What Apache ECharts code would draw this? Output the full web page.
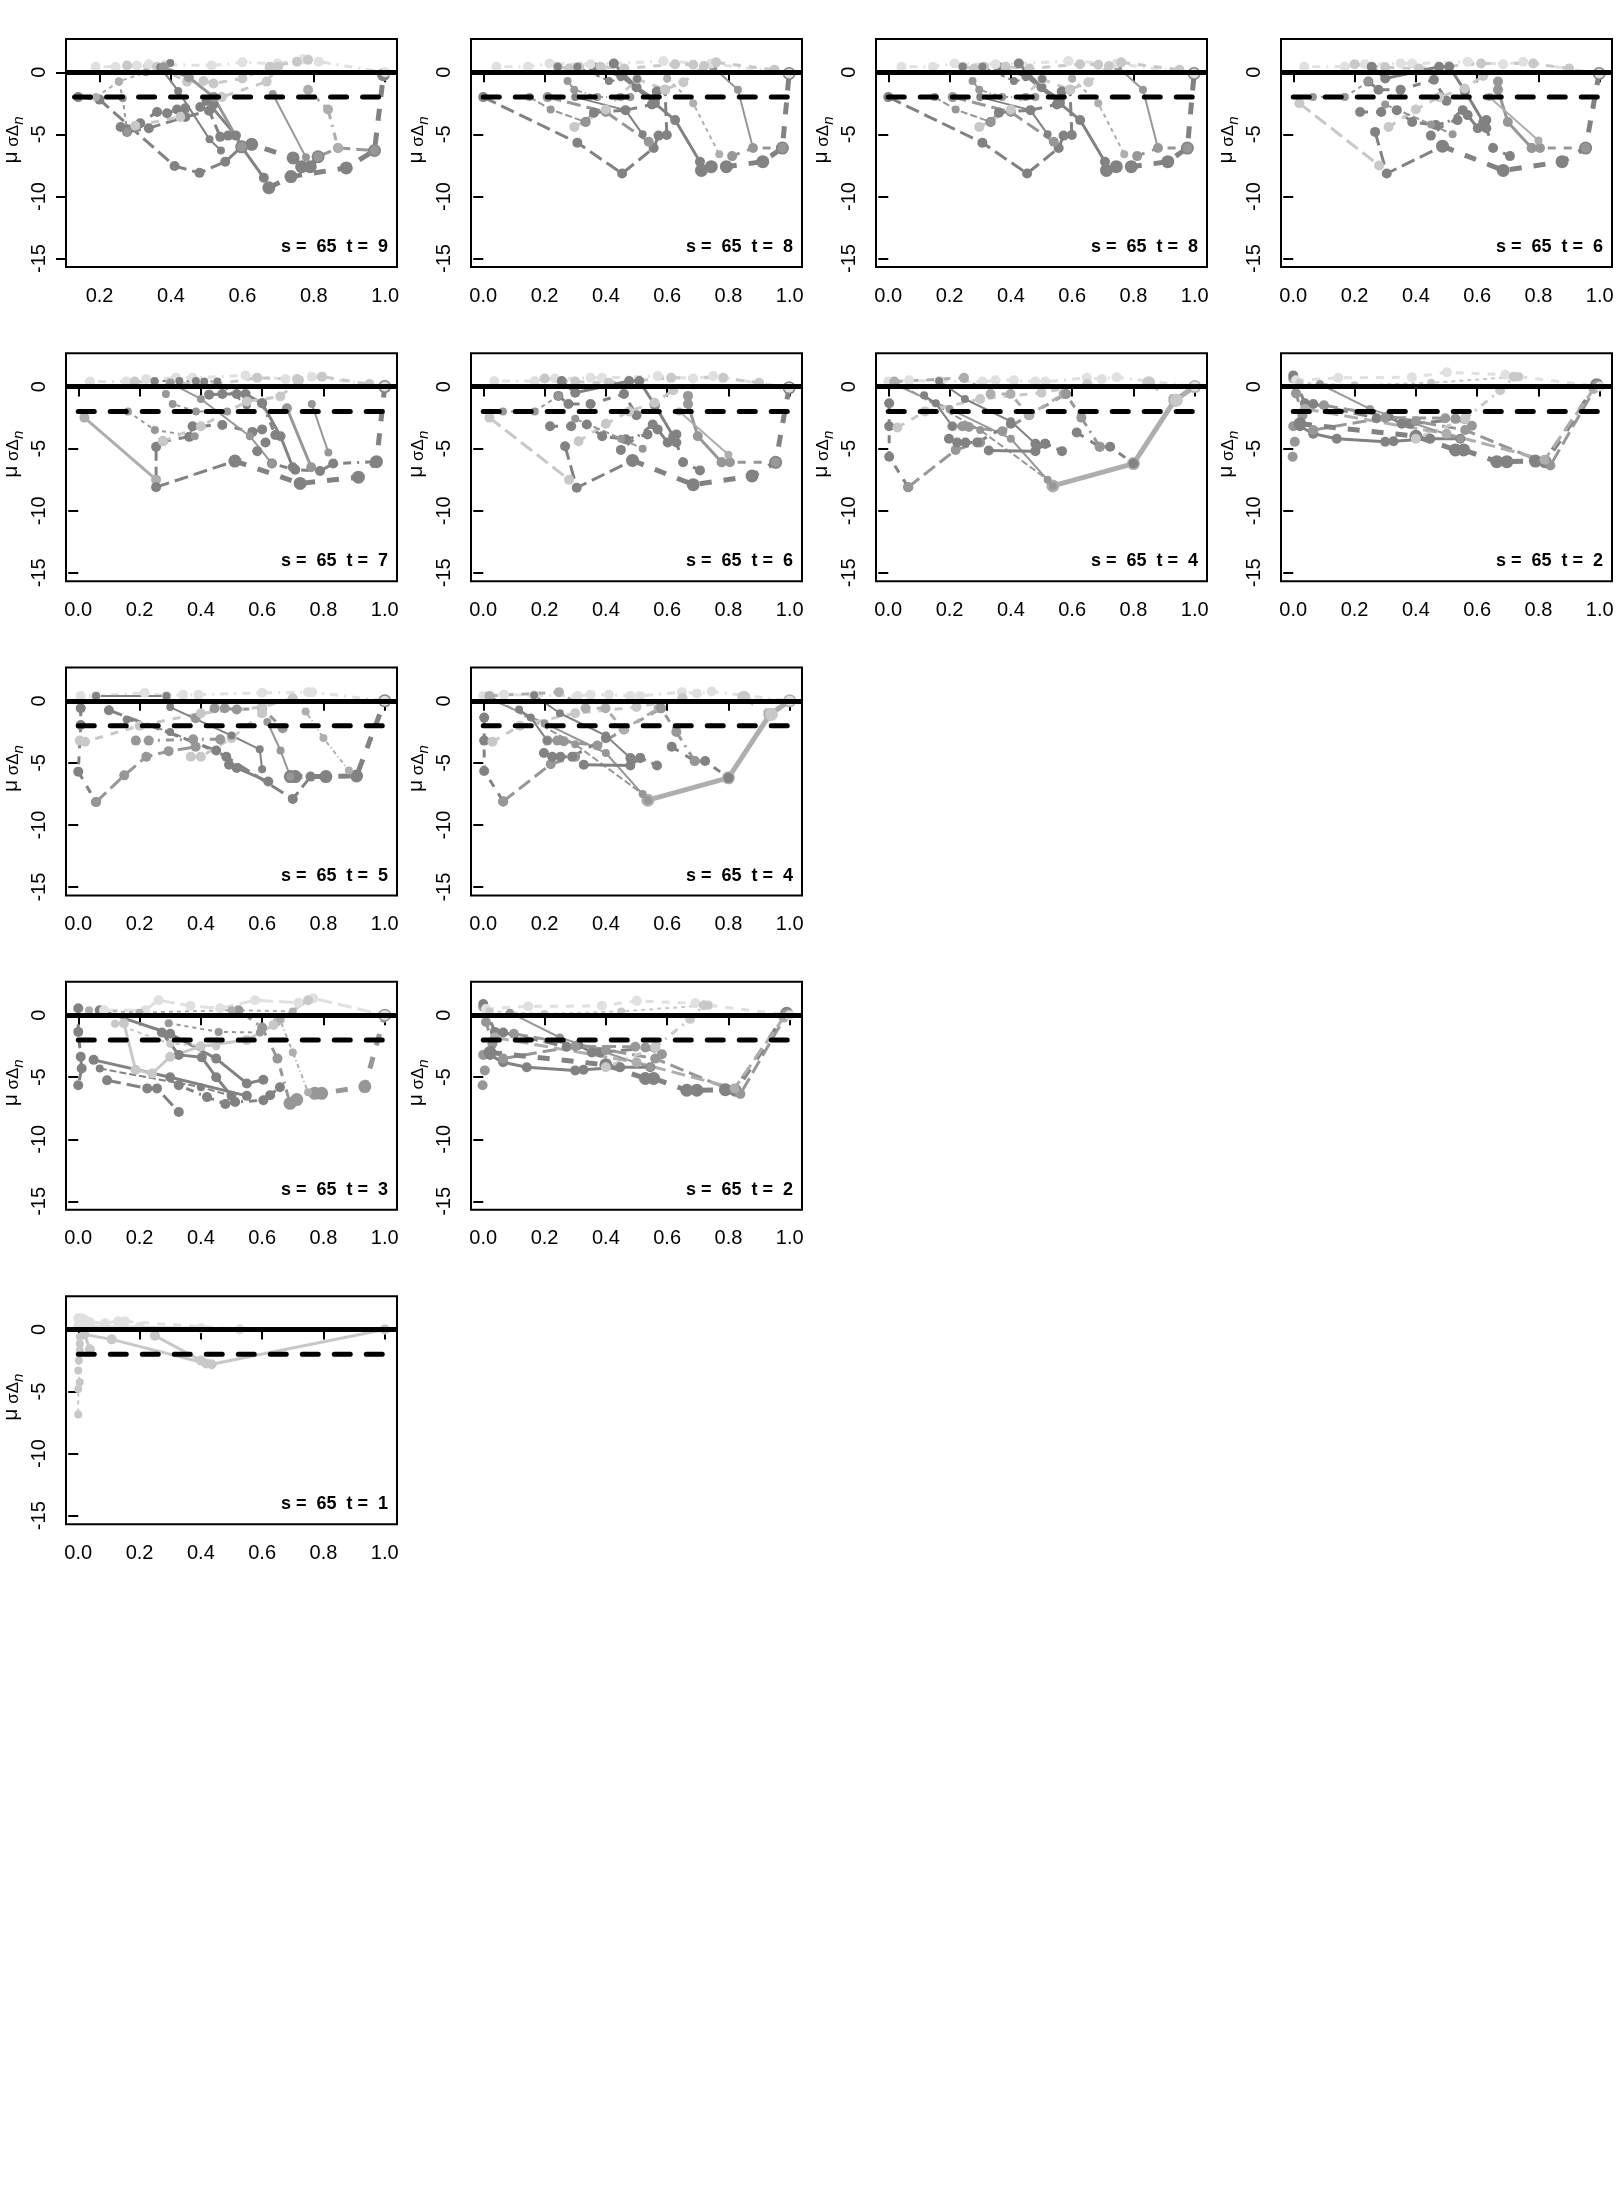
<!DOCTYPE html>
<html><head><meta charset="utf-8">
<script src="https://cdn.jsdelivr.net/npm/echarts@6/dist/echarts.min.js"></script>
<style>html,body{margin:0;padding:0;background:#fff}#c{width:1620px;height:2200px}</style>
</head><body><div id="c"></div>
<script>
// ---------------- DATA ----------------
const sValue = 65;
const tValues = [9, 8, 8, 6, 7, 6, 4, 2, 5, 4, 3, 2, 1];
const xTicksFull = [0, 0.2, 0.4, 0.6, 0.8, 1.0];
const xTicksT9 = [0.2, 0.4, 0.6, 0.8, 1.0];
const yTicks = [-15, -10, -5, 0];
const refSolid = 0;
const refDashed = -2;
const dashedStartT9 = 0.13;
const dashedStartOther = 0.0;

// t = 9
const t9Paths = [
  [[0.14,-2.0],[0.20,-2.2],[0.41,-7.55],[0.48,-8.1],[0.552,-7.2],[0.598,-6.0]],
  [[0.598,-6.0],[0.626,-5.8],[0.742,-6.9],[0.766,-7.6],[0.79,-7.6],[0.812,-6.8]],
  [[0.674,-9.3],[0.736,-8.4],[0.891,-7.7],[0.97,-6.3],[0.995,-0.2]],
  [[0.812,-6.8],[0.868,-6.1],[0.97,-6.3]],
  [[0.50,-2.3],[0.582,-5.1],[0.598,-6.0],[0.66,-8.5]],
  [[0.685,-1.75],[0.778,-6.85]],
  [[0.784,-1.4],[0.84,-3.0],[0.868,-6.1]],
  [[0.259,-4.4],[0.314,-4.1],[0.361,-3.2],[0.389,-3.3],[0.417,-3.0],[0.44,-2.9],[0.482,-2.8],[0.519,-2.6]],
  [[0.277,-4.8],[0.338,-4.5],[0.44,-3.6],[0.507,-3.1],[0.538,-5.2],[0.56,-5.1]],
  [[0.254,-0.75],[0.265,-2.1],[0.277,-4.8]],
  [[0.189,0.45],[0.245,0.45],[0.305,0.55],[0.338,0.65],[0.384,0.6],[0.514,0.55],[0.6,0.8],[0.698,0.7],[0.77,1.05],[0.814,0.85],[1.0,0.0]],
  [[0.277,0.55],[0.361,0.45],[0.445,-0.75],[0.491,-0.7],[0.519,-0.9],[0.6,-0.5],[0.677,0.45],[0.753,0.85],[0.784,1.0]],
  [[0.398,0.75],[0.37,0.4],[0.42,-1.5],[0.508,-5.4],[0.54,-6.3]],
  [[0.30,-4.3],[0.426,-3.6],[0.542,-2.0],[0.668,-0.75],[0.70,0.45]],
  [[0.38,0.4],[0.45,-0.4],[0.52,-2.0],[0.598,-6.0]],
  [[0.19,-2.0],[0.254,-0.75],[0.33,0.0]]
];
const t9Shade = [4,4,4,3,4,3,2,4,4,3,0,1,4,1,3,2];
const t9Lty   = ['ld','d','d','ld','s','s','dd','d','ld','d','dd','d','s','d','s','d'];
const t9Wt    = [2,3,3,2,2,1,2,2,2,1,2,2,1,2,2,1];

// t = 8
const t8Paths = [
  [[0.0,-2.0],[0.307,-5.67],[0.453,-8.15],[0.556,-6.1],[0.572,-5.1],[0.599,-5.05],[0.593,-1.4]],
  [[0.712,-7.9],[0.744,-7.6],[0.793,-7.6],[0.912,-7.2],[0.976,-6.1],[0.998,-0.1]],
  [[0.36,0.4],[0.45,-0.3],[0.56,-2.5],[0.626,-3.85],[0.707,-7.2],[0.712,-7.9]],
  [[0.812,-6.75],[0.88,-6.1],[0.976,-6.1]],
  [[0.75,0.4],[0.831,-1.4],[0.88,-6.1]],
  [[0.60,-0.5],[0.685,-2.5],[0.77,-6.6]],
  [[0.334,-4.0],[0.361,-3.25],[0.464,-3.05],[0.55,-2.6],[0.566,-1.55]],
  [[0.043,0.45],[0.146,0.45],[0.216,0.7],[0.35,0.65],[0.426,0.7],[0.588,0.9],[0.744,0.7],[0.998,-0.1]],
  [[0.243,0.45],[0.28,0.3],[0.313,0.45],[0.383,0.45],[0.46,0.3],[0.626,0.65],[0.685,0.6],[0.76,0.8],[0.95,0.2]],
  [[0.426,0.7],[0.50,-1.2],[0.56,-2.2]],
  [[0.151,-2.0],[0.22,-3.0],[0.334,-4.0]],
  [[0.21,-2.0],[0.40,-3.2],[0.54,-5.6]],
  [[0.30,-2.0],[0.464,-3.05],[0.52,-5.0]],
  [[0.275,-0.7],[0.297,-1.4],[0.372,-2.0],[0.448,-2.0],[0.48,-2.0]],
  [[0.297,-4.4],[0.40,-3.0],[0.502,-0.55],[0.593,-1.4],[0.653,-0.8],[0.72,0.5]],
  [[0.243,0.45],[0.307,0.45],[0.41,-0.7],[0.502,-0.55]]
];
const t8Shade = [4,4,4,3,3,2,4,0,1,4,3,3,4,3,1,4];
const t8Lty   = ['ld','d','s','d','s','d','d','dd','d','s','ld','ld','s','dd','d','d'];
const t8Wt    = [2,3,2,2,1,1,2,2,2,2,1,2,1,1,2,1];

// t = 6
const t6Paths = [
  [[0.02,-2.5],[0.28,-7.5]],
  [[0.267,-4.8],[0.305,-8.15],[0.487,-5.95]],
  [[0.487,-5.95],[0.685,-7.9],[0.877,-7.2],[0.954,-6.1],[0.998,-0.1]],
  [[0.63,-4.5],[0.652,-6.1],[0.707,-6.75]],
  [[0.778,-6.1],[0.805,-6.1],[0.954,-6.1]],
  [[0.668,-0.75],[0.668,-1.4],[0.70,-4.0],[0.778,-6.1]],
  [[0.64,-2.0],[0.80,-5.5]],
  [[0.218,-3.2],[0.287,-3.2],[0.338,-3.05],[0.388,-4.0],[0.465,-4.25],[0.536,-3.85]],
  [[0.449,-5.1],[0.553,-3.05],[0.569,-3.45],[0.602,-4.5],[0.63,-3.85]],
  [[0.245,-0.75],[0.278,-1.4],[0.35,-1.4],[0.459,-0.6],[0.50,-2.3]],
  [[0.064,-2.0],[0.168,-2.0],[0.245,-0.75]],
  [[0.036,0.45],[0.168,0.45],[0.234,0.65],[0.35,0.7],[0.388,0.7],[0.569,0.85],[0.685,0.65],[0.75,0.85],[0.998,-0.1]],
  [[0.2,0.65],[0.30,0.4],[0.41,0.3],[0.613,0.7],[0.783,0.7],[0.90,0.3]],
  [[0.256,0.45],[0.30,-0.5],[0.476,0.45],[0.509,0.45],[0.56,-1.5],[0.62,-4.0]],
  [[0.311,-4.4],[0.40,-3.0],[0.476,-2.0],[0.559,-1.3],[0.62,-0.3]],
  [[0.30,-2.6],[0.45,-4.2],[0.52,-5.0]]
];
const t6Shade = [1,4,4,4,3,3,2,4,4,4,3,0,1,4,1,3];
const t6Lty   = ['ld','ld','d','d','d','s','s','d','dd','d','d','dd','d','s','d','ld'];
const t6Wt    = [2,2,3,2,2,2,1,2,2,2,1,2,2,2,2,1];

// t = 7
const t7Paths = [
  [[0.02,-2.5],[0.254,-7.5]],
  [[0.254,-4.85],[0.254,-8.1],[0.511,-6.0]],
  [[0.511,-6.0],[0.724,-7.8],[0.914,-7.3],[0.973,-6.05],[1.0,0.0]],
  [[0.632,-6.2],[0.708,-6.7],[0.789,-6.8],[0.832,-6.2],[0.973,-6.05]],
  [[0.762,-1.4],[0.816,-5.3]],
  [[0.681,-1.75],[0.76,-6.5]],
  [[0.276,-4.4],[0.362,-4.05],[0.373,-3.2],[0.47,-3.1],[0.568,-3.65],[0.6,-3.45]],
  [[0.584,-5.2],[0.611,-4.5],[0.643,-3.9],[0.6,-1.35]],
  [[0.162,-2.0],[0.25,-3.5],[0.38,-4.0]],
  [[0.286,-0.6],[0.308,-1.4],[0.384,-2.0],[0.486,-2.0]],
  [[0.427,-0.65],[0.47,-0.6],[0.517,-0.6],[0.546,-0.6],[0.60,-1.35],[0.66,-4.0],[0.70,-6.5]],
  [[0.038,0.4],[0.157,0.4],[0.222,0.6],[0.319,0.7],[0.373,0.7],[0.546,0.9],[0.676,0.6],[0.762,0.8],[1.0,0.0]],
  [[0.184,0.4],[0.30,0.3],[0.45,0.2],[0.584,0.7],[0.714,0.6],[0.795,0.8],[0.95,0.2]],
  [[0.249,0.45],[0.33,0.45],[0.384,0.45],[0.411,0.4],[0.454,0.4],[0.55,-1.5]],
  [[0.276,-4.4],[0.40,-3.2],[0.55,-1.2],[0.659,-0.8],[0.72,0.5]],
  [[0.30,0.3],[0.40,-1.0],[0.56,-4.0],[0.632,-6.2]]
];
const t7Shade = [2,4,4,4,3,3,4,4,3,3,4,0,1,4,1,3];
const t7Lty   = ['s','ld','d','dd','s','s','d','dd','d','d','s','dd','d','d','d','s'];
const t7Wt    = [2,2,3,2,1,2,2,2,1,1,2,2,2,1,2,1];

// t = 4
const t4Paths = [
  [[0.003,-1.35],[0.003,-3.2],[0.003,-5.65],[0.065,-8.1]],
  [[0.065,-8.1],[0.22,-5.1],[0.30,-4.5]],
  [[0.537,-8.0],[0.8,-6.2],[0.935,-1.1],[1.0,0.0]],
  [[0.0,0.4],[0.20,-1.8],[0.40,-4.2],[0.537,-8.0]],
  [[0.02,0.4],[0.30,-3.5],[0.52,-7.5]],
  [[0.615,-3.7],[0.69,-4.85],[0.724,-4.85],[0.8,-6.2]],
  [[0.48,-4.6],[0.512,-4.6],[0.567,-5.2]],
  [[0.328,-5.15],[0.48,-5.2],[0.512,-4.6]],
  [[0.209,-3.2],[0.242,-3.2],[0.263,-3.25],[0.372,-3.6],[0.46,-2.3],[0.58,-0.6]],
  [[0.198,-4.2],[0.225,-4.5],[0.252,-4.5],[0.29,-4.5],[0.40,-3.0]],
  [[0.117,-0.7],[0.155,-1.35],[0.209,-3.2]],
  [[0.0,0.4],[0.068,0.5],[0.166,0.45],[0.307,0.4],[0.35,0.5],[0.41,0.5],[0.48,0.4],[0.512,0.4],[0.648,0.7],[0.697,0.6],[0.745,0.75],[1.0,0.0]],
  [[0.02,0.4],[0.247,0.7],[0.334,-0.6],[0.399,-0.6],[0.458,-2.3],[0.572,-0.6]],
  [[0.03,-3.3],[0.12,-2.0],[0.30,-1.0],[0.50,-0.5],[0.65,0.2]],
  [[0.166,0.45],[0.25,-1.0],[0.40,-2.8],[0.48,-4.6]],
  [[0.58,-0.6],[0.63,-2.5],[0.69,-4.85]],
  [[0.85,0.3],[0.94,-1.1]]
];
const t4Shade = [4,3,2,3,3,4,4,4,3,4,4,0,2,1,4,3,1];
const t4Lty   = ['d','ld','s','s','ld','d','dd','s','d','d','s','dd','d','d','s','dd','d'];
const t4Wt    = [2,2,3,1,1,2,2,2,2,2,1,2,2,2,1,2,3];

// t = 2
const t2Paths = [
  [[0.0,0.65],[0.009,-0.55],[0.03,-2.3],[0.0,-3.2],[0.005,-4.45],[-0.002,-5.65]],
  [[0.0,0.9],[0.038,-1.35],[0.065,-1.4],[0.272,-2.55],[0.31,-2.4],[0.354,-3.0],[0.381,-3.0],[0.561,-2.6]],
  [[0.022,-3.2],[0.065,-3.8],[0.142,-4.2],[0.3,-4.45],[0.327,-4.4],[0.447,-4.2],[0.545,-4.2]],
  [[0.065,-3.5],[0.30,-2.5],[0.496,-2.55],[0.529,-2.6],[0.583,-3.15]],
  [[0.022,-3.0],[0.40,-4.0],[0.529,-5.1],[0.556,-5.1],[0.664,-6.05],[0.697,-6.05],[0.79,-6.0],[0.822,-6.05],[0.99,0.15]],
  [[0.10,-1.5],[0.40,-2.8],[0.561,-3.5],[0.839,-6.35],[0.99,0.1]],
  [[0.038,-1.8],[0.50,-3.8],[0.82,-5.9],[0.98,-0.2]],
  [[0.009,0.5],[0.147,0.7],[0.387,0.75],[0.501,1.15],[0.692,0.95],[0.735,0.8],[1.0,0.0]],
  [[0.087,0.2],[0.25,-1.8],[0.545,-4.2]],
  [[0.40,-4.2],[0.561,-2.6],[0.675,-0.3],[0.72,0.8]],
  [[0.02,0.3],[0.20,0.1],[0.45,0.3],[0.735,0.8]]
];
const t2Shade = [3,4,4,3,4,3,2,0,3,1,1];
const t2Lty   = ['d','ld','s','ld','d','ld','ld','d','s','dd','d'];
const t2Wt    = [2,2,2,2,3,2,2,2,1,2,1];

// t = 5
const t5Paths = [
  [[0.008,-0.6],[0.008,-1.95],[0.0,-5.7],[0.058,-8.15]],
  [[0.058,-8.15],[0.15,-6.0],[0.222,-4.5],[0.295,-4.05],[0.383,-3.7]],
  [[0.188,-3.2],[0.23,-3.2],[0.375,-3.1],[0.463,-3.1]],
  [[0.483,-4.5],[0.492,-5.15],[0.517,-5.4],[0.62,-6.5]],
  [[0.10,-0.75],[0.45,-4.0],[0.70,-7.9],[0.758,-6.1]],
  [[0.692,-6.1],[0.708,-6.1],[0.808,-6.1],[0.908,-6.05],[1.0,0.0]],
  [[0.617,-1.7],[0.66,-4.0],[0.692,-6.1]],
  [[0.742,-0.85],[0.80,-3.0],[0.883,-5.6]],
  [[0.383,-1.4],[0.445,-0.6],[0.478,-0.6],[0.517,-0.7],[0.6,-0.6],[0.667,-2.2]],
  [[0.158,-1.5],[0.30,-2.5],[0.483,-4.5]],
  [[0.008,0.4],[0.058,0.4],[0.217,0.65],[0.288,0.4],[0.342,0.5],[0.392,0.5],[0.6,0.65],[0.75,0.7],[0.763,0.7],[1.0,0.0]],
  [[0.005,-3.2],[0.022,-3.3],[0.20,-2.0],[0.40,-1.0],[0.60,-0.5],[0.70,0.2]],
  [[0.367,-4.5],[0.40,-4.5],[0.50,-3.0],[0.60,-1.0]],
  [[0.058,0.4],[0.288,0.4],[0.30,-0.5],[0.50,-2.8],[0.592,-3.9],[0.60,-5.5]]
];
const t5Shade = [4,3,3,4,4,4,3,2,3,4,0,1,1,4];
const t5Lty   = ['d','ld','dd','s','ld','d','s','dd','d','ld','dd','d','d','s'];
const t5Wt    = [2,2,2,2,2,3,1,1,2,1,2,2,2,1];

// t = 3
const t3Paths = [
  [[0.0,0.55],[0.0,-1.35],[0.008,-3.35],[0.011,-4.3],[0.0,-5.65]],
  [[0.094,-5.25],[0.225,-5.9],[0.257,-5.9],[0.328,-7.8]],
  [[0.328,-5.65],[0.42,-6.6],[0.48,-7.15],[0.512,-7.0],[0.604,-6.85],[0.626,-6.45],[0.658,-5.8]],
  [[0.691,-7.1],[0.713,-6.8],[0.772,-6.3],[0.794,-6.3],[0.935,-5.75],[1.0,0.0]],
  [[0.05,-3.6],[0.30,-5.0],[0.55,-6.5]],
  [[0.07,-4.3],[0.40,-5.8],[0.50,-6.5]],
  [[0.07,0.4],[0.30,-1.5],[0.45,-3.5],[0.55,-5.5],[0.604,-5.2]],
  [[0.273,-1.4],[0.328,-3.2],[0.403,-3.4],[0.45,-5.0],[0.50,-6.5]],
  [[0.295,-0.65],[0.458,-1.35],[0.593,-1.4],[0.648,-0.55]],
  [[0.084,0.4],[0.219,0.4],[0.262,1.2],[0.366,0.75],[0.463,0.55],[0.577,1.2],[0.718,1.0],[0.767,1.35],[1.0,0.0]],
  [[0.149,-0.65],[0.187,-4.4],[0.241,-4.7],[0.30,-3.35],[0.40,-2.5],[0.55,-2.0],[0.637,-0.8],[0.658,-0.35],[0.75,1.2]],
  [[0.523,0.4],[0.60,-1.0],[0.65,-3.5],[0.691,-7.1]],
  [[0.658,-0.35],[0.70,-3.0],[0.75,-6.2]],
  [[0.035,0.4],[0.20,0.2],[0.50,0.4],[0.70,0.3]],
  [[0.12,-0.7],[0.30,-2.3],[0.45,-2.5]]
];
const t3Shade = [4,4,4,3,4,4,4,4,3,0,1,3,2,2,1];
const t3Lty   = ['d','ld','dd','d','s','ld','s','s','d','ld','s','dd','dd','d','d'];
const t3Wt    = [2,2,2,3,2,1,2,2,1,2,2,2,1,1,1];

// t = 1
const t1Paths = [
  [[0.0,0.9],[0.011,0.9],[0.022,0.75],[0.038,0.6],[0.087,0.5],[0.13,0.65],[0.152,0.65],[0.527,0.0],[1.0,0.0]],
  [[0.005,-0.6],[0.005,-1.15],[0.005,-1.7],[0.002,-2.5],[0.0,-3.3],[0.005,-4.25],[0.0,-4.8],[0.0,-6.85]],
  [[0.038,-1.6],[0.02,-0.4],[0.109,-0.8],[0.418,-2.75],[0.435,-2.8],[1.0,0.0]],
  [[0.25,-0.5],[0.40,-2.5]],
  [[0.0,0.3],[0.2,0.2],[0.4,0.1],[0.527,0.0]]
];
const t1Shade = [0,1,1,1,0];
const t1Lty   = ['d','d','s','s','s'];
const t1Wt    = [2,1,2,2,2];

// ---------------- LAYOUT / STYLE ----------------
const panelSets = [
  [t9Paths,t9Shade,t9Lty,t9Wt],[t8Paths,t8Shade,t8Lty,t8Wt],[t8Paths,t8Shade,t8Lty,t8Wt],[t6Paths,t6Shade,t6Lty,t6Wt],
  [t7Paths,t7Shade,t7Lty,t7Wt],[t6Paths,t6Shade,t6Lty,t6Wt],[t4Paths,t4Shade,t4Lty,t4Wt],[t2Paths,t2Shade,t2Lty,t2Wt],
  [t5Paths,t5Shade,t5Lty,t5Wt],[t4Paths,t4Shade,t4Lty,t4Wt],
  [t3Paths,t3Shade,t3Lty,t3Wt],[t2Paths,t2Shade,t2Lty,t2Wt],
  [t1Paths,t1Shade,t1Lty,t1Wt]
];
const cellPos = [[0,0],[1,0],[2,0],[3,0],[0,1],[1,1],[2,1],[3,1],[0,2],[1,2],[0,3],[1,3],[0,4]];
const CW = 405, CH = 2200/7;
const grays = ['#e0e0e0','#c8c8c8','#aeaeae','#979797','#828282'];
const FONT = 'Liberation Sans, Arial, sans-serif';

function dashFor(code, w) {
  if (code === 's') return 'solid';
  if (code === 'd') return [4*w, 4*w];
  if (code === 'ld') return [7*w, 3*w];
  if (code === 'dd') return [1*w, 3*w, 4*w, 3*w];
  return 'solid';
}
const wLine = {1: 2, 2: 3, 3: 5};
const wSym  = {1: 8, 2: 10, 3: 13};

const grids = [], xAxes = [], yAxes = [], series = [], graphics = [];
panelSets.forEach((set, i) => {
  const [paths, shade, lty, wt] = set;
  const cx = cellPos[i][0] * CW, cy = cellPos[i][1] * CH;
  const isT9 = i === 0;
  const ticksX = isT9 ? xTicksT9 : xTicksFull;
  grids.push({left: cx + 66, top: cy + 39, width: 331, height: 228, show: true,
    borderColor: '#000', borderWidth: 2, backgroundColor: 'transparent'});
  xAxes.push({type: 'value', gridIndex: i, min: isT9 ? 0.106 : -0.04, max: isT9 ? 1.033 : 1.04,
    axisLine: {show: false}, splitLine: {show: false},
    axisTick: {show: true, length: 10, lineStyle: {color: '#000', width: 2}, customValues: ticksX},
    axisLabel: {customValues: ticksX, formatter: v => v.toFixed(1), fontSize: 20, color: '#000',
      fontFamily: FONT, margin: 19}});
  yAxes.push({type: 'value', gridIndex: i, min: -15.68, max: 2.68,
    axisLine: {show: false}, splitLine: {show: false},
    axisTick: {show: true, length: 10, lineStyle: {color: '#000', width: 2}, customValues: yTicks},
    axisLabel: {customValues: yTicks, formatter: v => String(v), rotate: 90, fontSize: 20, color: '#000',
      fontFamily: FONT, margin: 17}});
  paths.forEach((p, k) => {
    const c = grays[shade[k]], w = wt[k];
    series.push({type: 'line', xAxisIndex: i, yAxisIndex: i, data: p, symbol: 'circle',
      symbolSize: wSym[w], showSymbol: true, silent: true, animation: false, z: 2,
      lineStyle: {color: c, width: wLine[w], type: dashFor(lty[k], w), cap: 'butt'},
      itemStyle: {color: c}});
  });
  const x0 = isT9 ? dashedStartT9 : dashedStartOther;
  series.push({type: 'line', xAxisIndex: i, yAxisIndex: i, data: [[x0, refDashed], [1.0, refDashed]],
    symbol: 'none', silent: true, animation: false, z: 5,
    lineStyle: {color: '#000', width: 5, type: [16, 16], cap: 'round'},
    markLine: {silent: true, symbol: ['none', 'none'], animation: false, label: {show: false},
      lineStyle: {color: '#000', width: 5, type: 'solid'}, data: [{yAxis: refSolid}]}});
  graphics.push({type: 'text', x: cx + 388, y: cy + 247,
    style: {text: 's =  ' + sValue + '  t =  ' + tValues[i], font: 'bold 18px ' + FONT, fill: '#000',
      textAlign: 'right', textVerticalAlign: 'middle'}});
  graphics.push({type: 'text', x: cx + 11, y: cy + 140, rotation: Math.PI / 2,
    style: {text: '{a|μ}{b| σΔ}{c|n}', textAlign: 'center', textVerticalAlign: 'middle', fill: '#000',
      rich: {a: {fontSize: 21, fontFamily: FONT, lineHeight: 30, verticalAlign: 'middle'},
             b: {fontSize: 17, fontFamily: FONT, lineHeight: 17, verticalAlign: 'bottom', padding: [0,0,4,0]},
             c: {fontSize: 15, fontFamily: FONT, fontStyle: 'italic', lineHeight: 15, verticalAlign: 'bottom'}}}});
});

const chart = echarts.init(document.getElementById('c'), null, {renderer: 'canvas'});
chart.setOption({animation: false, backgroundColor: '#fff', grid: grids, xAxis: xAxes, yAxis: yAxes,
  series: series, graphic: graphics});
</script></body></html>
